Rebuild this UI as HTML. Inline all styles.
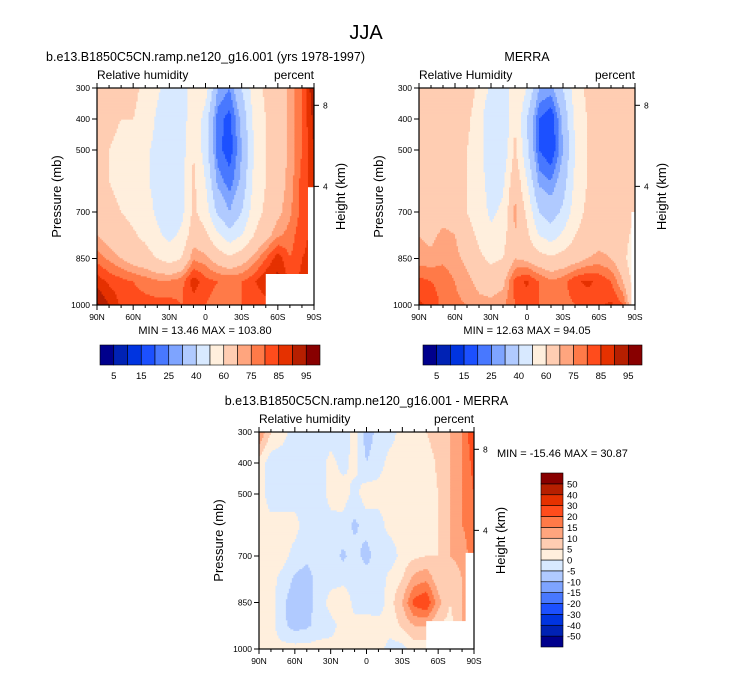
<!DOCTYPE html>
<html><head><meta charset="utf-8"><style>
body{margin:0;background:#fff}
svg{display:block;font-family:"Liberation Sans",sans-serif}
</style></head><body>
<svg id="s" width="733" height="673" viewBox="0 0 733 673">
<text x="366" y="39" font-size="20" text-anchor="middle">JJA</text>
</svg>
<script>
// ---- data ----
const lats = [90,80,70,60,50,40,30,20,10,0,-10,-20,-30,-40,-50,-60,-70,-80,-90];
const pLevels = [300,400,500,600,700,775,850,925,1000];
const modelRH = [
[70,68,62,62,58,52,45,42,58,55,30,25,40,55,62,65,72,80,95],
[64,62,60,60,57,48,40,42,60,45,22,18,32,52,60,65,72,80,92],
[62,60,58,55,52,47,42,45,60,45,22,17,30,50,60,65,72,80,90],
[62,60,58,55,52,46,45,46,62,50,28,22,32,52,60,66,72,82,88],
[64,62,60,58,55,48,45,47,62,55,38,30,40,55,62,68,74,82,86],
[70,66,63,61,58,52,47,52,66,62,52,44,50,60,67,74,77,84,86],
[78,74,70,66,64,60,56,60,74,72,66,62,66,72,80,88,80,85,86],
[88,84,82,80,78,76,76,78,88,82,80,80,80,84,90,92,84,86,86],
[96,90,84,82,82,82,82,80,82,80,78,78,80,80,82,84,84,86,86]];
const merraRH = [
[65,65,66,68,65,58,48,42,60,50,30,28,40,55,62,64,66,68,70],
[62,62,63,64,62,55,40,40,60,40,20,15,32,52,60,62,64,66,68],
[60,60,62,62,60,55,40,42,62,42,20,15,30,50,60,62,63,66,68],
[62,62,62,62,60,55,45,48,68,50,28,25,35,52,60,62,63,66,70],
[66,64,66,66,60,55,48,52,72,58,40,35,42,55,62,64,64,66,62],
[70,68,72,70,64,58,52,56,70,62,50,45,52,60,64,66,66,66,55],
[72,72,74,72,68,62,58,60,70,68,64,62,64,66,70,72,70,64,50],
[82,80,78,75,72,68,66,68,82,86,80,76,78,84,86,84,80,70,55],
[86,84,78,76,75,72,72,74,80,82,80,78,78,80,82,84,86,80,60]];
const diffRH = [
[15,5,2,-3,-3,-5,-3,-4,2,-8,-3,-2,2,2,5,8,10,15,25],
[3,-3,-3,-3,-3,-3,2,-2,2,-5,-2,2,2,2,2,6,10,15,22],
[3,-3,-3,-3,-3,-3,2,3,-2,3,2,2,2,2,2,5,10,15,20],
[3,2,2,2,-3,-3,-2,-2,-6,-3,-2,2,2,2,3,5,10,15,18],
[3,2,2,-2,-4,-3,-2,-6,-3,-7,-2,-3,2,4,5,5,10,12,18],
[3,2,-2,-6,-7,-3,-2,-2,-2,-2,-3,2,5,12,14,7,5,10,15],
[3,2,-4,-8,-7,-3,2,5,-2,-2,-3,3,10,22,25,12,5,10,15],
[3,2,-4,-7,-6,-3,-2,2,2,2,2,2,6,10,10,5,3,10,12],
[2,2,2,2,2,2,2,2,2,2,2,-2,-2,2,2,2,2,8,10]];
const rhLevels = [5,10,15,20,25,30,40,50,60,70,75,80,85,90,95];
const rhLabels = ["5","15","25","40","60","75","85","95"];
const diffLevels = [-50,-40,-30,-20,-15,-10,-5,0,5,10,15,20,30,40,50];
const diffLabels = ["-50","-40","-30","-20","-15","-10","-5","0","5","10","15","20","30","40","50"];
const xTickLats = [90,60,30,0,-30,-60,-90];
const xTickLabels = ["90N","60N","30N","0","30S","60S","90S"];
const pTicks = [300,400,500,700,850,1000];
const hTicks = [8,4];
const colors = ["#00008c","#0022b4","#0034e0","#1c50ff","#4878ff","#7ea4ff","#b0caff","#d8e9ff","#ffefdd","#ffcdb2","#ffa57e","#ff7a48","#ff4c1c","#e53100","#b61f00","#880000"];

const S = document.getElementById('s');
const NS = 'http://www.w3.org/2000/svg';
function el(tag, attrs, parent){const e=document.createElementNS(NS,tag);for(const k in attrs)e.setAttribute(k,attrs[k]);(parent||S).appendChild(e);return e;}
function txt(x,y,s,size,anchor,parent){const t=el('text',{x:x,y:y,'font-size':size,'text-anchor':anchor||'start'},parent);t.textContent=s;return t;}

function field(grid, lat, p){
  let fi=(90-lat)/10; let i0=Math.min(Math.floor(fi),lats.length-2); let fx=fi-i0;
  let j0=0; while(j0<pLevels.length-2 && p>pLevels[j0+1]) j0++;
  let fy=(p-pLevels[j0])/(pLevels[j0+1]-pLevels[j0]);
  // smoothstep-ish blend for softer contours
  const a=grid[j0][i0],b=grid[j0][i0+1],c=grid[j0+1][i0],d=grid[j0+1][i0+1];
  return (a*(1-fx)+b*fx)*(1-fy)+(c*(1-fx)+d*fx)*fy;
}
function colorIdx(v, levels){let k=0;while(k<levels.length&&v>=levels[k])k++;return k;}

function panel(o){
  const g=el('g',{});
  
  
  const X=lat=>o.x+(90-lat)/180*o.w, Y=p=>o.y+(p-300)/700*o.h;
  const NX=144, NY=144, cw=o.w/NX, ch=o.h/NY;
  for(let r=0;r<NY;r++){
    const p=300+(r+0.5)/NY*700;
    let start=0, cur=-1;
    for(let c=0;c<=NX;c++){
      let k=-2;
      if(c<NX){const lat=90-(c+0.5)/NX*180; k=colorIdx(field(o.grid,lat,p),o.levels);}
      if(k!==cur){
        if(cur>=0){
          const rc=el('rect',{x:(o.x+start*cw).toFixed(2),y:(o.y+r*ch).toFixed(2),width:((c-start)*cw+0.5).toFixed(2),height:(ch+0.5).toFixed(2),fill:colors[cur]},g);
          
          
        }
        cur=k;start=c;
      }
    }
  }
  (o.missing||[]).forEach(m=>{
    const mr=el('rect',{x:X(m[0]),y:Y(m[1]),width:X(m[2])-X(m[0])+0.5,height:Y(1000)-Y(m[1]),fill:'#fff'},g);
    
    
  });
  const fr=el('rect',{x:o.x,y:o.y,width:o.w,height:o.h,fill:'none',stroke:'#000','stroke-width':1.2},g);
  
  
  for(let lat=90;lat>=-90;lat-=10){
    const major=lat%30===0, L=major?5:3;
    el('line',{x1:X(lat),x2:X(lat),y1:o.y+o.h,y2:o.y+o.h+L,stroke:'#000'},g);
    el('line',{x1:X(lat),x2:X(lat),y1:o.y,y2:o.y-L,stroke:'#000'},g);
  }
  xTickLats.forEach((lat,i)=>{const t=txt(X(lat),o.y+o.h+15,xTickLabels[i],8.5,'middle',g);});
  pTicks.forEach(p=>{
    el('line',{x1:o.x-5,x2:o.x,y1:Y(p),y2:Y(p),stroke:'#000'},g);
    const t=txt(o.x-7,Y(p)+3,String(p),8.5,'end',g);
  });
  hTicks.forEach(z=>{
    const p=1071*Math.exp(-z/7.26);
    el('line',{x1:o.x+o.w,x2:o.x+o.w+5,y1:Y(p),y2:Y(p),stroke:'#000'},g);
    const t=txt(o.x+o.w+9,Y(p)+3,String(z),8.5,'start',g);
  });
  let t=txt(o.x-36,o.y+o.h/2,'Pressure (mb)',13,'middle',g);
  t.setAttribute('transform',`rotate(-90 ${o.x-36} ${o.y+o.h/2})`);
  
  t=txt(o.x+o.w+31,o.y+o.h/2,'Height (km)',13,'middle',g);
  t.setAttribute('transform',`rotate(-90 ${o.x+o.w+31} ${o.y+o.h/2})`);
  
  t=txt(o.x,o.y-9,o.left,12,'start',g);
  t=txt(o.x+o.w,o.y-9,'percent',12,'end',g);
  t=txt(o.x+o.w/2,o.y-27,o.title,12.5,'middle',g);
  return {X,Y};
}

panel({name:'model-panel',x:97,y:88,w:217,h:217,grid:modelRH,levels:rhLevels,left:'Relative humidity',title:'b.e13.B1850C5CN.ramp.ne120_g16.001 (yrs 1978-1997)',missing:[[-50,900,-90],[-85,620,-90]]});
panel({name:'merra-panel',x:419,y:88,w:216,h:217,grid:merraRH,levels:rhLevels,left:'Relative Humidity',title:'MERRA',missing:[[-87,700,-90]]});
panel({name:'difference-panel',x:259,y:432,w:215,h:217,grid:diffRH,levels:diffLevels,left:'Relative humidity',title:'b.e13.B1850C5CN.ramp.ne120_g16.001 - MERRA',missing:[[-50,910,-90],[-83,690,-90]]});

let t=txt(205,334,'MIN =  13.46  MAX = 103.80',11,'middle');t.setAttribute('xml:space','preserve');
t=txt(527,334,'MIN =  12.63  MAX =  94.05',11,'middle');t.setAttribute('xml:space','preserve');
t=txt(497,457,'MIN = -15.46  MAX =  30.87',11,'start');t.setAttribute('xml:space','preserve');

function hbar(x0,x1,y,name){
  const g=el('g',{});
  const w=(x1-x0)/colors.length;
  colors.forEach((c,i)=>{const r=el('rect',{x:x0+i*w,y:y,width:w,height:20,fill:c,stroke:'#000','stroke-width':0.6},g);});
  rhLabels.forEach((s,i)=>{const t=txt(x0+(2*i+1)*w,y+34,s,9.5,'middle',g);});
}
hbar(100,320,345,'model-colorbar');
hbar(423,642,345,'merra-colorbar');
(function(){
  const g=el('g',{});
  const x=541,y0=473,y1=647,h=(y1-y0)/colors.length;
  colors.forEach((c,i)=>{const r=el('rect',{x:x,y:y1-(i+1)*h,width:22,height:h,fill:c,stroke:'#000','stroke-width':0.6},g);});
  diffLabels.forEach((s,i)=>{const t=txt(x+26,y1-(i+1)*h+3.5,s,9.5,'start',g);});
})();
</script>
</body></html>
